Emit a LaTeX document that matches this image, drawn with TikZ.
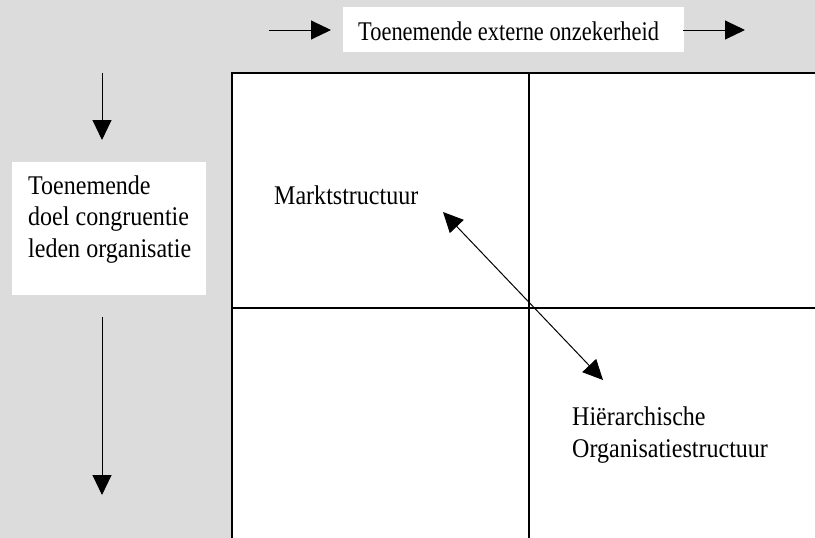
\documentclass[tikz,border=0pt]{standalone}
\usepackage{fontspec}
\setmainfont{Liberation Serif}[FakeStretch=0.89]
\newfontfamily\topfont{Liberation Serif}[FakeStretch=0.83]
\usetikzlibrary{arrows.meta}
\definecolor{bggray}{HTML}{DCDCDC}
\tikzset{
  gridline/.style={line width=1.2pt, black},
  arr/.style={line width=1pt, -{Triangle[length=20pt,width=19pt]}},
  darr/.style={line width=1pt, {Triangle[length=20pt,width=19pt]}-{Triangle[length=20pt,width=19pt]}},
  labelbox/.style={fill=white, draw=none, inner sep=0pt},
  txt/.style={inner sep=0pt, anchor=base west, font=\fontsize{27}{31.5}\selectfont, align=left}
}
\begin{document}
\begin{tikzpicture}[x=1pt,y=-1pt]
\useasboundingbox (0,0) rectangle (815,538);
\fill[bggray] (0,0) rectangle (815,538);
\fill[white] (232,73) rectangle (815,538);
\draw[gridline] (815,73) -- (232,73) -- (232,538);
\draw[gridline] (529,73) -- (529,538);
\draw[gridline] (232,308) -- (815,308);

% top label
\node[labelbox, minimum width=341pt, minimum height=45pt] (topbox) at (513.5,29.5) {};
\node[txt, font=\topfont\fontsize{27}{31.5}\selectfont] (toptext) at (358,40) {Toenemende externe onzekerheid};
\coordinate (t1) at (269,30);
\coordinate (t2) at (331,30);
\coordinate (t3) at (683,30);
\coordinate (t4) at (745,30);
\draw[arr] (t1) -- (t2);
\draw[arr] (t3) -- (t4);

% left label
\node[labelbox, minimum width=194pt, minimum height=133pt] (leftbox) at (109,228.5) {};
\node[txt] (lefttext) at (28,257) {Toenemende\\doel congruentie\\leden organisatie};
\coordinate (l1) at (102,73);
\coordinate (l2) at (102,140);
\coordinate (l3) at (102,317);
\coordinate (l4) at (102,495);
\draw[arr] (l1) -- (l2);
\draw[arr] (l3) -- (l4);

% quadrant labels
\node[txt] (markt) at (274,204) {Marktstructuur};
\node[txt] (hier) at (572,457) {Hiërarchische\\Organisatiestructuur};
\coordinate (d1) at (443,212);
\coordinate (d2) at (603,380);
\draw[darr] (d1) -- (d2);
\end{tikzpicture}
\end{document}
